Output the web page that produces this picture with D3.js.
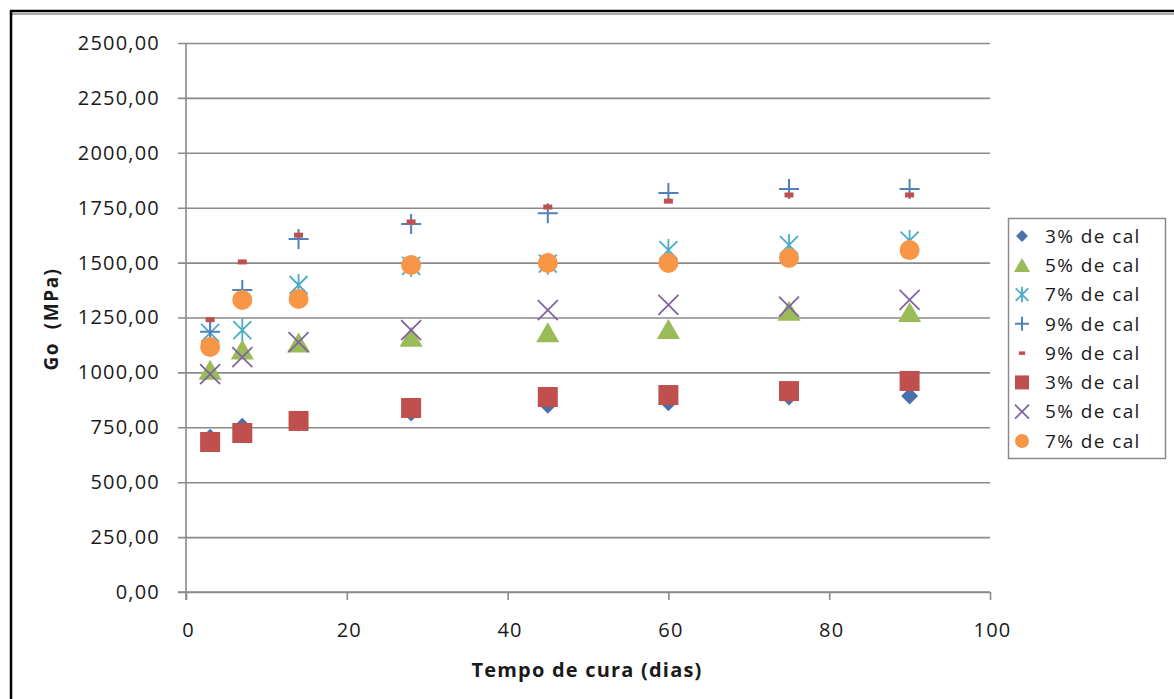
<!DOCTYPE html>
<html><head><meta charset="utf-8">
<script src="https://cdn.jsdelivr.net/npm/d3@7"></script>
<style>
html,body{margin:0;padding:0;background:#fff;}
text{font-family:"Open Sans",sans-serif;fill:#1a1a1a;}
</style></head>
<body>
<script>
const days = [3, 7, 14, 28, 45, 60, 75, 90];
const xTicks = [0, 20, 40, 60, 80, 100];
const yTicks = [0, 250, 500, 750, 1000, 1250, 1500, 1750, 2000, 2250, 2500];
const legendLabels = ["3% de cal","5% de cal","7% de cal","9% de cal","9% de cal","3% de cal","5% de cal","7% de cal"];
const s3diamond = [705, 755, 770, 815, 850, 862, 888, 893];
const s5triangle = [1010, 1102, 1134, 1160, 1180, 1195, 1278, 1272];
const s7asterisk = [1180, 1193, 1398, 1485, 1495, 1557, 1580, 1600];
const s9plus = [1185, 1375, 1607, 1676, 1725, 1817, 1835, 1835];
const s9dash = [1240, 1503, 1625, 1685, 1753, 1780, 1808, 1808];
const s3square = [683, 724, 779, 838, 888, 897, 915, 961];
const s5cross = [992, 1070, 1138, 1193, 1284, 1307, 1300, 1330];
const s7circle = [1116, 1330, 1334, 1489, 1498, 1498, 1521, 1557];

const series = [
  {vals:s3diamond, type:"diamond", color:"#4A72A8"},
  {vals:s5triangle, type:"triangle", color:"#9BBB59"},
  {vals:s7asterisk, type:"asterisk", color:"#4BACC6"},
  {vals:s9plus, type:"plus", color:"#4F81BD"},
  {vals:s9dash, type:"dash", color:"#C0504D"},
  {vals:s3square, type:"square", color:"#C0504D"},
  {vals:s5cross, type:"cross", color:"#8064A2"},
  {vals:s7circle, type:"circle", color:"#F79646"}
];

const W = 1174, H = 699;
const svg = d3.select("body").append("svg").attr("width", W).attr("height", H);
svg.append("rect").attr("width", W).attr("height", H).attr("fill", "#fff");
// outer frame
svg.append("line").attr("x1",10).attr("x2",W).attr("y1",11).attr("y2",11).attr("stroke","#000").attr("stroke-width",2.5);
svg.append("line").attr("x1",10).attr("x2",W).attr("y1",14).attr("y2",14).attr("stroke","#aaa").attr("stroke-width",2);
svg.append("line").attr("x1",11).attr("x2",11).attr("y1",10).attr("y2",H).attr("stroke","#000").attr("stroke-width",2.5);

const x = d3.scaleLinear().domain([0,100]).range([186,990]);
const y = d3.scaleLinear().domain([0,2500]).range([592,43]);
const gc = "#8a8a8a";

// gridlines + y axis
const gy = svg.append("g").attr("transform", "translate(186,0)")
  .call(d3.axisLeft(y).tickValues(yTicks).tickSize(-(990-186)).tickSizeOuter(0)
    .tickFormat(d => d3.format(".2f")(d).replace(".", ",")));
gy.select(".domain").remove();
gy.selectAll(".tick line").attr("stroke", gc).attr("stroke-width", 1.6).attr("x1", -8);
gy.selectAll(".tick text").attr("x", -26).attr("font-size", 20).attr("letter-spacing", 1.2)
  .attr("fill", "#1a1a1a").attr("font-family", "Open Sans");
svg.append("line").attr("x1",186).attr("x2",186).attr("y1",43).attr("y2",600).attr("stroke",gc).attr("stroke-width",1.6);

const gx = svg.append("g").attr("transform", "translate(0,592)")
  .call(d3.axisBottom(x).tickValues(xTicks).tickSize(8).tickSizeOuter(0));
gx.select(".domain").attr("stroke", gc).attr("stroke-width", 1.6).attr("d", "M178,0H990");
gx.selectAll(".tick line").attr("stroke", gc).attr("stroke-width", 1.6);
gx.selectAll(".tick text").attr("y", 38).attr("font-size", 20).attr("letter-spacing", 1.2)
  .attr("fill", "#1a1a1a").attr("font-family", "Open Sans").attr("dy", "0.35em").attr("dx", "0.1em");

// titles
svg.append("text").attr("x", 587).attr("y", 677).attr("text-anchor", "middle")
  .attr("font-size", 20).attr("letter-spacing", 1.2).attr("font-weight", "bold").text("Tempo de cura (dias)");
svg.append("text").attr("transform", "translate(58,319) rotate(-90)").attr("text-anchor", "middle")
  .attr("font-size", 19).attr("letter-spacing", 1.5).attr("font-weight", "bold").attr("xml:space","preserve").text("Go  (MPa)");

function drawMarker(g, type, color, s) {
  const h = s/2;
  switch(type){
    case "diamond": {
      const d = h*0.85;
      g.append("path").attr("d", `M0,${-d}L${d},0L0,${d}L${-d},0Z`).attr("fill", color); break;
    }
    case "triangle": {
      const t = h*1.05;
      g.append("path").attr("d", `M0,${-t}L${t*1.1},${t*0.9}L${-t*1.1},${t*0.9}Z`).attr("fill", color); break;
    }
    case "asterisk": {
      const a = h*0.9;
      g.append("path").attr("d", `M${-a},${-a}L${a},${a}M${a},${-a}L${-a},${a}M0,${-h*1.1}L0,${h*1.1}`)
        .attr("stroke", color).attr("stroke-width", 1.8).attr("fill", "none"); break;
    }
    case "plus":
      g.append("path").attr("d", `M${-h},0L${h},0M0,${-h}L0,${h}`)
        .attr("stroke", color).attr("stroke-width", 2).attr("fill", "none"); break;
    case "dash":
      g.append("rect").attr("x", -h*0.45).attr("y", -h*0.25).attr("width", h*0.9).attr("height", h*0.5).attr("fill", color); break;
    case "square":
      g.append("rect").attr("x", -h).attr("y", -h).attr("width", s).attr("height", s).attr("fill", color); break;
    case "cross": {
      const a = h;
      g.append("path").attr("d", `M${-a},${-a}L${a},${a}M${a},${-a}L${-a},${a}`)
        .attr("stroke", color).attr("stroke-width", 1.8).attr("fill", "none"); break;
    }
    case "circle":
      g.append("circle").attr("r", h).attr("fill", color); break;
  }
}

const plot = svg.append("g");
series.forEach(sr => {
  const sg = plot.append("g");
  sr.vals.forEach((v, i) => {
    const g = sg.append("g").attr("transform", `translate(${x(days[i])},${y(v)})`);
    drawMarker(g, sr.type, sr.color, 20);
  });
});

// legend
const lg = svg.append("g");
lg.append("rect").attr("x", 1008.5).attr("y", 218.5).attr("width", 157).attr("height", 240)
  .attr("fill", "#fff").attr("stroke", "#8a8a8a").attr("stroke-width", 1.5);
const ly = d3.scaleLinear().domain([0,7]).range([236, 441]);
series.forEach((sr, i) => {
  const g = lg.append("g").attr("transform", `translate(1022,${ly(i)})`);
  drawMarker(g, sr.type, sr.color, 14);
  lg.append("text").attr("x", 1045).attr("y", ly(i)).attr("dy", "0.35em")
    .attr("font-size", 19).attr("letter-spacing", 1.4).text(legendLabels[i]);
});
</script>
</body></html>
